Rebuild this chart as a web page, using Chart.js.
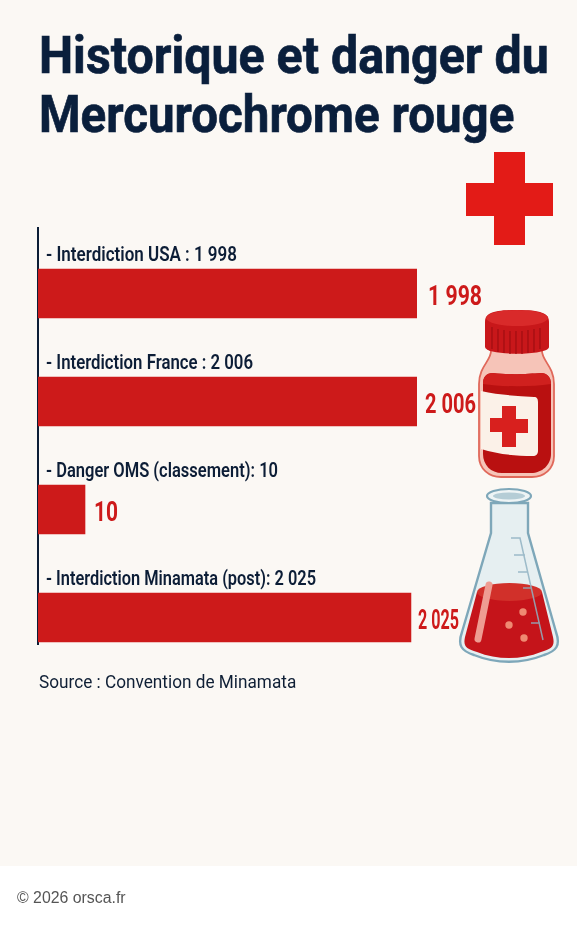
<!DOCTYPE html>
<html lang="fr">
<head>
<meta charset="utf-8">
<title>Historique et danger du Mercurochrome rouge</title>
<script src="https://cdn.jsdelivr.net/npm/chart.js@4"></script>
<style>
html, body { margin: 0; padding: 0; background: #fff; }
#page { position: relative; width: 577px; height: 926px; overflow: hidden; background: #fff; }
#paper { position: absolute; left: 0; top: 0; width: 577px; height: 866px; background: #fbf8f4; }
#chartBox { position: absolute; left: 0; top: 0; width: 577px; height: 926px; }
#art { position: absolute; left: 0; top: 0; }
.fit { position: absolute; white-space: nowrap; transform-origin: 0 0; }
.title { left: 39px; font: 700 52px/64px Roboto, sans-serif; color: #0a1f3c; -webkit-text-stroke: 0.7px #0a1f3c; }
#source { left: 39px; top: 671px; font: 400 18px/22px Roboto, sans-serif; color: #0f1f35; }
#copyright { left: 17px; top: 889px; font: 400 16px/18px "Liberation Sans", Arial, sans-serif; color: #555; }
</style>
</head>
<body>
<div id="page">
  <div id="paper"></div>
  <div id="chartBox"><canvas id="mercuroChart"></canvas></div>

  <div class="fit title" style="top:24px" data-width="510">Historique et danger du</div>
  <div class="fit title" style="top:83px" data-width="475">Mercurochrome rouge</div>
  <div class="fit" id="source" data-width="257">Source : Convention de Minamata</div>
  <div class="fit" id="copyright" data-width="109">© 2026 orsca.fr</div>

  <!-- decorations: cross, bottle and flask -->
  <svg id="art" width="577" height="926" viewBox="0 0 577 926">
    <path d="M494 152h31v31h28v33h-28v29h-31v-29h-28v-33h28z" fill="#e31b17"/>

    <!-- bottle -->
    <path d="M491 350c1 10-12 16-12 34v72c0 13 10 21 22 21h31c12 0 22-8 22-21v-72c0-18-13-24-12-34z" fill="#f6c4b8" stroke="#e0685a" stroke-width="1.800"/>
    <path d="M483 384c0-7 3-11 10-11 15 2 36 1 48 0 6 0 10 4 10 11v70c0 11-9 19-20 19h-29c-11 0-19-8-19-19z" fill="#b91010"/>
    <path d="M483 384c0-7 3-11 10-11 15 2 36 1 48 0 6 0 10 4 10 11-20 3-48 3-68 0z" fill="#d0201e"/>
    <path d="M481 391c18 4 36 5 53 6 3 0 4 2 4 5v49c0 3-2 5-5 5-19 0-36-2-52-7z" fill="#fbf1e8"/>
    <path d="M502 406h14v13h12v14h-12v14h-14v-15h-12v-14h12z" fill="#d8201e"/>
    <path d="M485 322c0-9 8-12 32-12s32 3 32 12v25c0 9-64 9-64 0z" fill="#c8171a"/>
    <ellipse cx="517" cy="318" rx="31" ry="8" fill="#d92a2a"/>
    <path d="M492 327v22M498 329v23M504 330v23M510 331v23M516 331v23M522 331v23M528 330v23M534 329v23M540 328v21" stroke="#a30f12" stroke-width="1.300" fill="none"/>

    <!-- flask -->
    <path d="M491 503v30l-29 99c-5 14 0 19 12 23 22 9 48 9 70 0 12-4 17-9 12-23l-28-99v-30z" fill="#e6eff1" stroke="#7ea7b9" stroke-width="2.400"/>
    <ellipse cx="509" cy="496" rx="22" ry="7" fill="#eef4f5" stroke="#7ea7b9" stroke-width="2.200"/>
    <ellipse cx="509" cy="496" rx="16" ry="3.500" fill="#b5cdd6"/>
    <path d="M477 592l-12 45c-2 9 1 12 12 15 20 8 44 8 64 0 11-3 14-6 12-15l-11-45z" fill="#c5141a"/>
    <ellipse cx="509.500" cy="592" rx="32.500" ry="9" fill="#d1302a"/>
    <path d="M489 585l-11 54" stroke="#ee9c92" stroke-width="7" stroke-linecap="round" fill="none"/>
    <circle cx="523" cy="612" r="3.700" fill="#ef8a72"/>
    <circle cx="509" cy="625" r="3.700" fill="#ef8a72"/>
    <circle cx="524" cy="638" r="3.700" fill="#ef8a72"/>
    <path d="M511 538h9l23 102M514 555h11M518 572h9M523 588h9M531 623h9" stroke="#8fb2c2" stroke-width="1.500" fill="none" opacity="0.85"/>
  </svg>
</div>

<script>
// Chart data
const categories = ['Interdiction USA', 'Interdiction France', 'Danger OMS (classement)', 'Interdiction Minamata (post)'];
const seriesValues = ['1 998', '2 006', '10', '2 025'];
const categoryLabels = ['- Interdiction USA : 1 998', '- Interdiction France : 2 006', '- Danger OMS (classement): 10', '- Interdiction Minamata (post): 2 025'];
// The bars are not to scale in the original, these are their lengths as drawn (longest = 100)
const barLengths = [100, 100, 12.4, 98.4];

// Fitting of the condensed lettering
const labelWidths = [191, 207, 232, 270];
const valueWidths = [54, 51, 24, 41];
const valueGaps = [11, 8, 9, 7];

const INK = '#0c1d36';
const RED = '#cd1a1a';

// Roboto squeezed horizontally to the width of the original face
function drawFitted(ctx, text, x, y, width, font, color) {
    ctx.save();
    ctx.font = font;
    ctx.fillStyle = color;
    ctx.textBaseline = 'alphabetic';
    ctx.textAlign = 'left';
    ctx.translate(x, y);
    ctx.scale(width / ctx.measureText(text).width, 1);
    ctx.fillText(text, 0, 0);
    ctx.restore();
}

const barTexts = {
    id: 'barTexts',
    afterDatasetsDraw(chart) {
        const { ctx, scales } = chart;
        chart.getDatasetMeta(0).data.forEach((bar, i) => {
            const mid = scales.y.getPixelForValue(i);
            drawFitted(ctx, categoryLabels[i], bar.base + 8, mid - 32.5, labelWidths[i], '600 20px Roboto', INK);
            drawFitted(ctx, seriesValues[i], bar.x + valueGaps[i], mid + 11, valueWidths[i], '700 27px Roboto', RED);
        });
    }
};

function initChart() {
    new Chart(document.getElementById('mercuroChart'), {
        type: 'bar',
        data: {
            datasets: [{
                data: categories.map((name, i) => ({ x: barLengths[i], y: i })),
                backgroundColor: RED,
                borderWidth: 0,
                barThickness: 49
            }]
        },
        options: {
            indexAxis: 'y',
            responsive: true,
            maintainAspectRatio: false,
            animation: false,
            layout: { padding: { left: 38, right: 160, top: 228, bottom: 282 } },
            plugins: { legend: { display: false }, tooltip: { enabled: false } },
            scales: {
                x: { display: false, min: 0, max: 100 },
                y: {
                    type: 'linear',
                    reverse: true,
                    offset: false,
                    min: -0.6065,
                    max: 3.245,
                    grid: { display: false, drawTicks: false },
                    ticks: { display: false },
                    border: { display: true, color: INK, width: 2 }
                }
            }
        },
        plugins: [barTexts]
    });
}

function fitHtmlText() {
    document.querySelectorAll('.fit').forEach(el => {
        el.style.transform = `scaleX(${el.dataset.width / el.offsetWidth})`;
    });
}

fitHtmlText();
initChart();
</script>
</body>
</html>
